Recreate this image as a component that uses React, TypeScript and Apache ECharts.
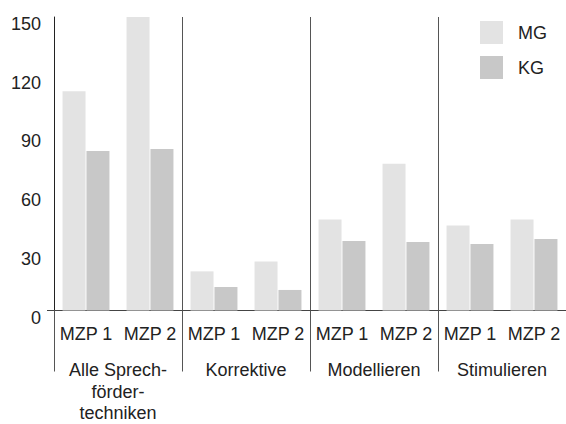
import React, { useEffect, useRef } from "react";
import * as echarts from "echarts";

const groups = ["Alle Sprech-\nförder-\ntechniken", "Korrektive", "Modellieren", "Stimulieren"];
const categories = ["MZP 1", "MZP 2", "MZP 1", "MZP 2", "MZP 1", "MZP 2", "MZP 1", "MZP 2"];
const mgValues = [112, 150, 20, 25, 46.5, 75, 43.5, 46.5];
const kgValues = [81.5, 82.5, 12, 10.5, 35.5, 35, 34, 36.5];
const yMin = 0;
const yMax = 150;
const yInterval = 30;

const FONT = "'Liberation Sans', Arial, Helvetica, sans-serif";
const TEXT = "#222";

export default function App() {
  const ref = useRef<HTMLDivElement>(null);
  useEffect(() => {
    if (!ref.current) return;
    const chart = echarts.init(ref.current, undefined, { renderer: "svg" });
    chart.setOption({
      animation: false,
      textStyle: { fontFamily: FONT },
      grid: { left: 54, top: 17, width: 516, bottom: 108, containLabel: false },
      legend: {
        orient: "vertical",
        left: 480,
        top: 21,
        padding: 0,
        itemWidth: 23,
        itemHeight: 23,
        itemGap: 12,
        icon: "rect",
        textStyle: { fontSize: 18, color: TEXT, fontFamily: FONT, padding: [0, 0, 0, 10] },
        data: ["MG", "KG"],
      },
      xAxis: [
        {
          type: "category",
          data: categories,
          position: "bottom",
          axisLine: { show: true, lineStyle: { color: "#444", width: 1 } },
          axisTick: { show: false },
          axisLabel: { fontSize: 18, color: TEXT, margin: 14, interval: 0, fontFamily: FONT },
          splitLine: { show: false },
        },
        {
          type: "category",
          data: groups,
          position: "bottom",
          axisLine: { show: false },
          axisTick: { show: true, length: 61, interval: 0, lineStyle: { color: "#555", width: 1 } },
          axisLabel: {
            fontSize: 18,
            color: TEXT,
            margin: 49,
            lineHeight: 21.5,
            interval: 0,
            align: "center",
            fontFamily: FONT,
          },
          splitLine: { show: true, interval: 0, lineStyle: { color: "#555", width: 1 } },
        },
      ],
      yAxis: {
        type: "value",
        min: yMin,
        max: yMax,
        interval: yInterval,
        axisLine: { show: true, lineStyle: { color: "#222", width: 1 } },
        axisTick: { show: true, customValues: [0], length: 7, lineStyle: { color: "#444" } },
        axisLabel: {
          fontSize: 18,
          color: TEXT,
          margin: 13,
          verticalAlign: "top",
          lineHeight: 14,
          fontFamily: FONT,
        },
        splitLine: { show: false },
      },
      series: [
        {
          name: "MG",
          type: "bar",
          data: mgValues,
          barWidth: 23,
          barGap: "4%",
          itemStyle: { color: "#e3e3e3" },
          xAxisIndex: 0,
        },
        {
          name: "KG",
          type: "bar",
          data: kgValues,
          barWidth: 23,
          barGap: "4%",
          itemStyle: { color: "#c8c8c8" },
          xAxisIndex: 0,
        },
      ],
    });
    return () => chart.dispose();
  }, []);
  return (
    <div
      ref={ref}
      style={{ position: "fixed", left: 0, top: 0, width: 566, height: 424, background: "#fff" }}
    />
  );
}
